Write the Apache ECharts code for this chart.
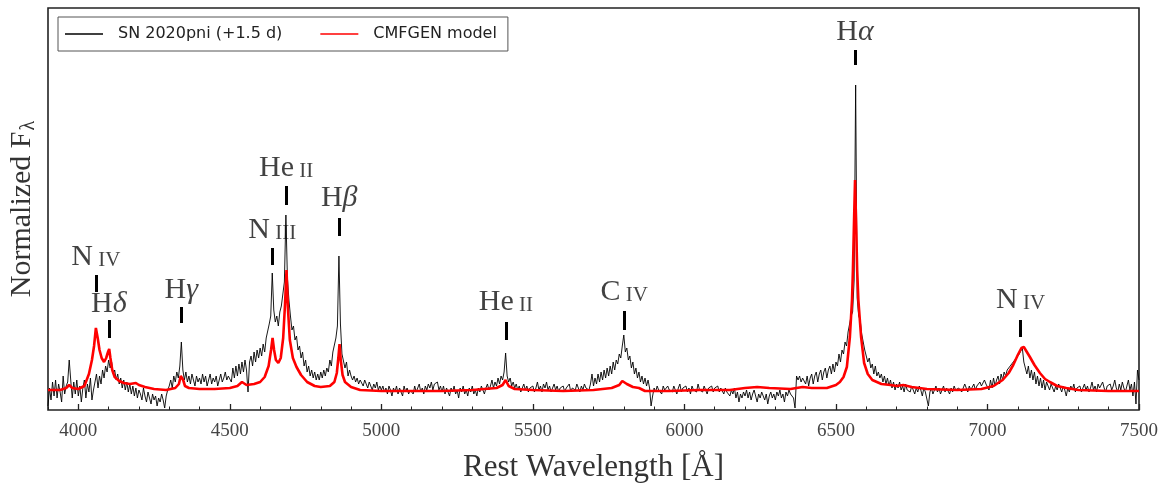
<!DOCTYPE html>
<html><head><meta charset="utf-8">
<script src="https://cdn.jsdelivr.net/npm/echarts@6/dist/echarts.min.js"></script>
<style>html,body{margin:0;padding:0;background:#fff}#c{width:1169px;height:485px}</style>
</head><body><div id="c"></div>
<script>
// Observed spectrum: relative flux (arbitrary units), sampled every obsStep Å from obsStart
const obsStart = 3900, obsStep = 5;
const obsFlux = [
4,22,10,28,14,30,12,26,18,8,34,16,24,28,50,30,12,28,16,30,
14,24,8,22,30,12,26,18,32,10,20,28,36,22,34,26,40,32,44,38,
50,42,48,36,40,30,36,26,32,22,30,20,28,18,26,16,24,14,22,12,
20,16,10,22,14,8,18,12,6,16,10,14,4,12,8,16,10,2,14,20,
24,30,22,34,28,38,32,44,68,40,30,38,28,34,26,36,30,24,34,28,
32,26,36,28,34,24,30,36,26,32,28,34,24,30,36,28,32,38,30,34,
36,28,42,32,44,34,46,36,48,38,50,40,18,48,54,44,58,48,60,52,
62,54,66,58,72,70,86,94,137,100,88,94,84,98,104,116,128,195,132,110,
94,80,84,70,74,60,64,52,58,44,50,38,44,34,40,32,38,30,36,30,
38,32,40,34,42,38,50,44,58,56,72,84,154,86,56,54,42,48,34,40,
34,30,34,28,32,26,30,28,24,30,26,22,28,24,20,26,22,28,20,24,
20,24,18,22,16,24,20,14,22,18,24,16,22,20,14,24,18,22,16,20,
22,16,24,18,20,26,18,22,16,24,20,26,22,28,20,26,24,28,20,24,
18,24,16,22,20,14,22,18,24,16,20,12,22,18,24,16,20,14,22,18,
24,16,20,14,22,18,24,20,16,22,26,20,24,30,22,28,24,32,26,34,
30,38,57,34,28,32,24,28,22,26,20,24,18,22,26,20,24,18,22,20,
24,18,22,28,20,24,18,26,22,28,20,24,18,22,26,20,24,18,22,20,
24,18,22,20,26,18,22,24,20,26,22,18,24,20,26,22,24,20,26,36,
24,32,26,36,28,38,30,40,32,42,34,44,36,48,40,50,46,56,52,64,
75,58,62,50,54,42,48,36,42,32,38,28,34,26,32,24,30,22,4,14,
22,18,24,20,22,16,24,20,18,24,20,22,18,24,20,16,22,26,18,22,
20,24,18,22,16,24,20,22,18,26,20,22,18,24,20,16,22,20,24,18,
22,20,24,18,22,20,16,22,18,20,14,20,16,22,12,18,8,16,12,18,
14,20,12,18,10,16,20,14,8,16,12,18,14,10,16,6,14,18,12,16,
10,18,14,20,12,16,8,18,14,20,16,18,12,2,34,30,34,28,32,30,
26,34,24,32,36,26,34,38,28,36,40,30,38,42,32,40,44,36,46,38,
48,44,56,48,60,56,68,64,78,80,94,98,130,325,112,94,90,76,74,60,
60,48,52,42,46,36,44,34,38,32,36,28,34,26,32,24,30,22,28,20,
26,22,28,20,24,18,26,20,22,18,24,20,16,22,18,24,20,14,22,18,
20,4,18,22,16,20,24,18,22,16,20,24,18,22,20,16,22,18,24,20,
18,22,24,18,20,26,22,18,24,20,22,26,20,24,22,28,24,26,30,26,
28,20,30,22,32,24,30,34,26,36,30,38,34,40,38,44,42,48,46,52,
50,56,54,62,48,46,36,44,32,40,30,38,26,34,24,32,22,30,20,28,
24,20,26,22,18,24,20,26,22,18,24,20,14,22,18,24,20,26,18,22,
20,24,18,22,26,20,24,18,22,28,20,24,18,26,22,20,28,22,18,24,
22,26,20,24,30,22,18,26,20,28,22,18,24,30,20,26,14,28,6,40,30
];
// CMFGEN model
const modelWave = [3900,3940,3960,3970,3980,4000,4020,4035,4045,4052,4058,4064,4070,4077,4085,4092,4098,4102,4106,4112,4120,4135,4150,4170,4190,4200,4220,4250,4290,4320,4332,4338,4342,4346,4352,4365,4400,4450,4500,4525,4540,4555,4580,4600,4615,4628,4636,4641,4646,4652,4660,4668,4676,4682,4687,4692,4698,4708,4720,4735,4755,4780,4800,4830,4845,4853,4858,4862,4866,4872,4880,4900,4930,5000,5100,5200,5300,5380,5400,5410,5420,5440,5500,5600,5700,5760,5785,5795,5801,5810,5830,5850,5870,5950,6050,6150,6200,6240,6280,6350,6390,6420,6470,6500,6513,6525,6536,6546,6553,6556,6559,6563,6567,6570,6574,6583,6593,6605,6620,6650,6680,6700,6722,6750,6800,6900,6980,7020,7050,7070,7085,7100,7112,7120,7130,7140,7155,7173,7190,7206,7230,7260,7300,7400,7500];
const modelFlux = [20,20,22,25,22,21,24,36,50,64,82,72,60,52,48,52,58,61,52,40,33,29,27,26,27,25,23,21,20,22,26,34,36,30,24,22,21,21,22,24,28,25,26,28,33,44,60,72,60,50,47,52,72,105,140,100,70,52,43,35,28,24,23,24,28,37,52,66,50,35,28,23,20,19,19,19,20,22,25,30,24,21,20,19,20,22,25,29,30,26,23,22,19,19,20,20,22,23,22,21,23,22,22,25,28,33,43,73,110,140,180,230,180,140,110,73,47,36,30,26,25,24,25,23,21,20,21,24,30,37,45,55,62,63,58,53,45,37,31,28,24,22,20,19,19];
// axis ticks
const majorTicks = [4000,4500,5000,5500,6000,6500,7000,7500];
const minorTicks = [3900,4100,4200,4300,4400,4600,4700,4800,4900,5100,5200,5300,5400,5600,5700,5800,5900,6100,6200,6300,6400,6600,6700,6800,6900,7100,7200,7300,7400];
// line identifications
const lineIds = ['{m|N}{s| IV}','{m|H}{g|δ}','{m|H}{g|γ}','{m|N}{s| III}','{m|He}{s| II}','{m|H}{g|β}','{m|He}{s| II}','{m|C}{s| IV}','{m|H}{g|α}','{m|N}{s| IV}'];
const lineWave = [4058,4101,4340,4640,4686,4861,5411,5801,6563,7109];
const labelLevel = [153,106,120,180,242,212,108,118,378,110];
const markTop = [135,90,103,162,224,192,88,99,360,90];
const markBottom = [118,72,87,145,205,174,70,80,345,73];

const obsName = 'SN 2020pni (+1.5 d)', modelName = 'CMFGEN model';
const serif = "'Liberation Serif', 'DejaVu Serif', serif";

const chart = echarts.init(document.getElementById('c'), null, {renderer:'canvas'});
chart.setOption({
  animation: false,
  backgroundColor: '#fff',
  grid: {left: 48, right: 30, top: 8, bottom: 75, outerBoundsMode: 'none', containLabel: false,
         show: true, borderColor: '#222', borderWidth: 1.6, backgroundColor: 'transparent'},
  legend: {
    left: 58, top: 17, orient: 'horizontal', icon: 'rect',
    padding: [9, 11, 9, 7], itemWidth: 38, itemHeight: 1.4, itemGap: 38,
    borderColor: '#555', borderWidth: 1, borderRadius: 0,
    textStyle: {fontFamily: "'DejaVu Sans', sans-serif", fontSize: 16, color: '#222', padding: [0, 0, 0, 10]},
    data: [obsName, modelName]
  },
  xAxis: [{
    type: 'value', min: 3900, max: 7500,
    axisLine: {show: false},
    axisTick: {show: true, inside: true, length: 6, customValues: majorTicks, lineStyle: {color: '#222', width: 1.3}},
    axisLabel: {customValues: majorTicks, formatter: v => String(v), fontFamily: serif, fontSize: 19, color: '#444', margin: 12},
    splitLine: {show: false},
    name: 'Rest Wavelength [Å]', nameLocation: 'middle', nameGap: 42,
    nameTextStyle: {fontFamily: serif, fontSize: 31, color: '#333'}
  }, {
    type: 'value', min: 3900, max: 7500, position: 'bottom',
    axisLine: {show: false},
    axisTick: {show: true, inside: true, length: 3.5, customValues: minorTicks, lineStyle: {color: '#222', width: 1}},
    axisLabel: {show: false}, splitLine: {show: false}
  }],
  yAxis: {
    type: 'value', min: 0, max: 402,
    axisLine: {show: false}, axisTick: {show: false}, axisLabel: {show: false}, splitLine: {show: false},
    name: '{n|Normalized F}{s|λ}', nameLocation: 'middle', nameGap: 9, nameRotate: 90,
    nameTextStyle: {fontFamily: serif, fontSize: 30, color: '#333',
      rich: {n: {fontFamily: serif, fontSize: 30, color: '#333'}, s: {fontFamily: serif, fontSize: 20, color: '#333', padding: [14, 0, 0, 1]}}}
  },
  series: [{
    name: obsName, type: 'line', xAxisIndex: 0,
    data: obsFlux.map((f, i) => [obsStart + i * obsStep, f]),
    symbol: 'none', lineStyle: {color: '#000', width: 0.9}, itemStyle: {color: '#000'}, z: 2
  }, {
    name: modelName, type: 'line', xAxisIndex: 0,
    data: modelWave.map((w, i) => [w, modelFlux[i]]),
    symbol: 'none', lineStyle: {color: '#ff0000', width: 2.6}, itemStyle: {color: '#ff0000'}, z: 3
  }, {
    name: 'ids', type: 'scatter', xAxisIndex: 0,
    data: lineWave.map((w, i) => [w, labelLevel[i]]),
    symbolSize: 1, itemStyle: {color: 'rgba(0,0,0,0)'}, silent: true, z: 4,
    label: {
      show: true, position: 'inside', color: '#111',
      formatter: p => lineIds[p.dataIndex],
      rich: {
        m: {fontFamily: serif, fontSize: 30, color: '#111'},
        g: {fontFamily: serif, fontSize: 30, fontStyle: 'italic', color: '#111'},
        s: {fontFamily: serif, fontSize: 21, color: '#111', padding: [6, 0, 0, 0]}
      }
    },
    markLine: {
      silent: true, symbol: ['none', 'none'], label: {show: false}, animation: false,
      lineStyle: {color: '#000', width: 3, type: 'solid'},
      emphasis: {disabled: true},
      data: lineWave.map((w, i) => [{coord: [w, markBottom[i]]}, {coord: [w, markTop[i]]}])
    }
  }]
});
</script></body></html>
